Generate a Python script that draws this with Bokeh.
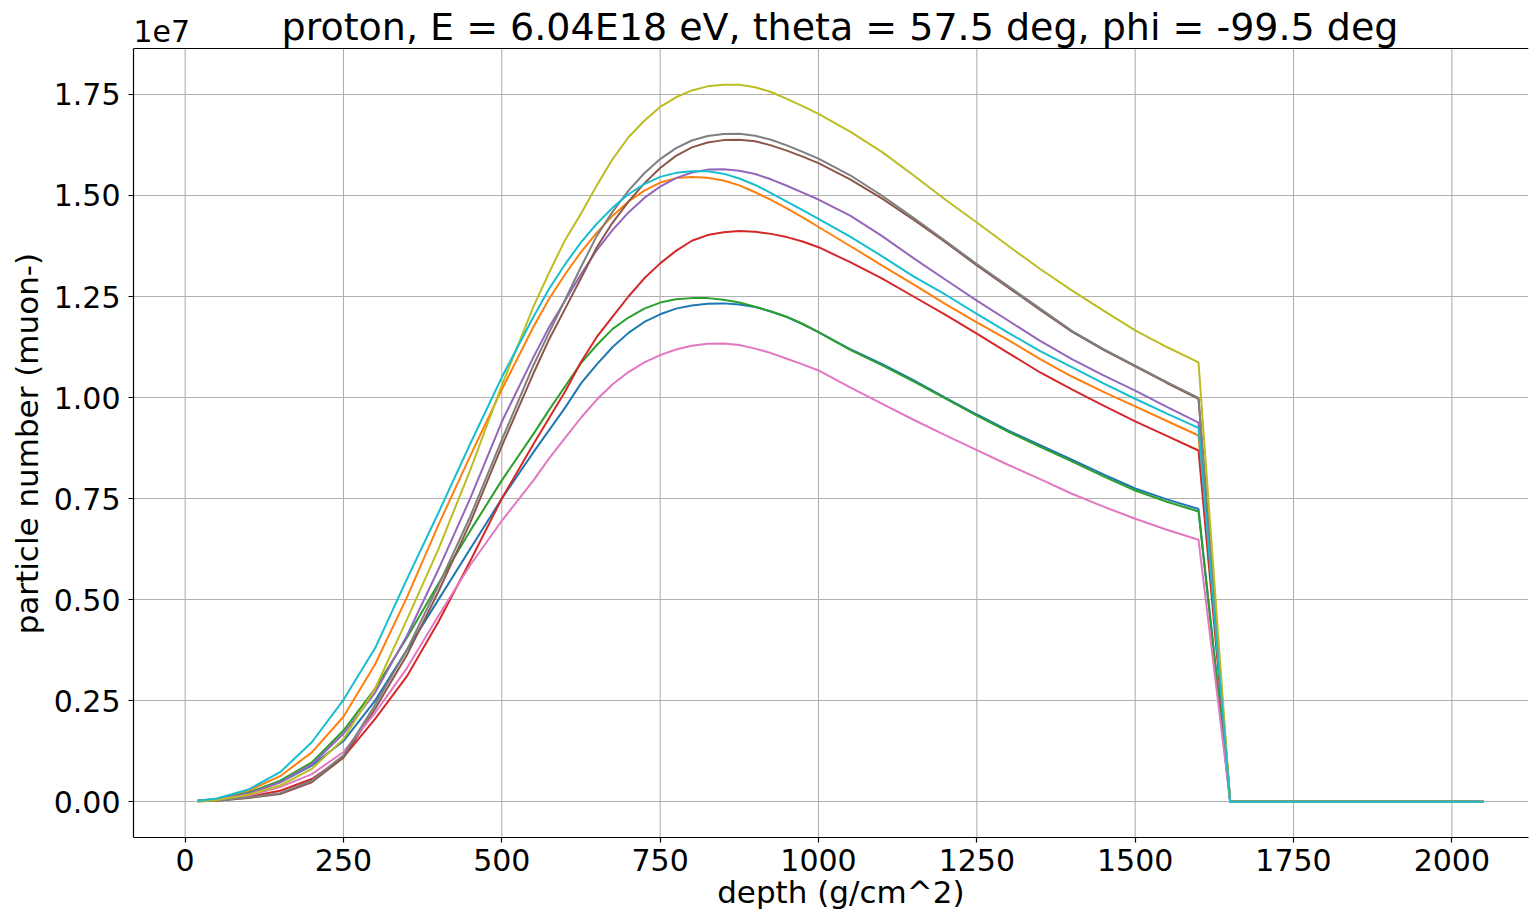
from bokeh.plotting import figure
from bokeh.models import Range1d, FixedTicker, NumeralTickFormatter, Label, Span
from bokeh.embed import file_html
from bokeh.resources import INLINE

# ---------------- data (particle numbers in units of 1e6) ----------------
depth = [20, 50, 100, 150, 200, 250, 300, 350, 400, 450, 500, 550, 575, 600, 625, 650,
         675, 700, 725, 750, 775, 800, 825, 850, 875, 900, 925, 950, 975, 1000,
         1050, 1100, 1150, 1200, 1250, 1300, 1350, 1400, 1450, 1500, 1550, 1600, 1650, 2050]

curve_blue = [0.02, 0.05, 0.20, 0.48, 0.89, 1.50, 2.50, 3.75, 5.00, 6.25, 7.50, 8.65, 9.20,
              9.75, 10.35, 10.82, 11.25, 11.60, 11.87, 12.06, 12.20, 12.28, 12.32, 12.33,
              12.30, 12.24, 12.13, 11.99, 11.82, 11.62,
              11.20, 10.83, 10.43, 10.00, 9.58, 9.18, 8.82, 8.46, 8.10, 7.75, 7.48, 7.24, 0.0, 0.0]
curve_orange = [0.02, 0.07, 0.27, 0.63, 1.22, 2.10, 3.40, 5.05, 6.85, 8.55, 10.20, 11.75, 12.45,
                13.05, 13.60, 14.08, 14.50, 14.85, 15.12, 15.32, 15.43, 15.46, 15.44, 15.37,
                15.25, 15.08, 14.89, 14.68, 14.46, 14.22,
                13.75, 13.27, 12.80, 12.32, 11.86, 11.42, 10.95, 10.52, 10.14, 9.78, 9.42, 9.06, 0.0, 0.0]
curve_green = [0.02, 0.06, 0.22, 0.52, 0.97, 1.76, 2.80, 4.05, 5.40, 6.70, 7.95, 9.10, 9.70,
               10.28, 10.85, 11.30, 11.70, 11.98, 12.20, 12.35, 12.43, 12.46, 12.46, 12.42,
               12.35, 12.25, 12.13, 12.00, 11.82, 11.62,
               11.18, 10.80, 10.40, 9.98, 9.55, 9.15, 8.78, 8.42, 8.05, 7.70, 7.42, 7.18, 0.0, 0.0]
curve_red = [0.01, 0.03, 0.12, 0.27, 0.56, 1.10, 2.05, 3.10, 4.45, 5.95, 7.50, 8.85, 9.50,
             10.15, 10.88, 11.50, 12.00, 12.50, 12.95, 13.32, 13.63, 13.88, 14.02, 14.09,
             14.12, 14.10, 14.05, 13.97, 13.86, 13.72,
             13.35, 12.95, 12.50, 12.05, 11.58, 11.10, 10.62, 10.20, 9.80, 9.41, 9.05, 8.69, 0.0, 0.0]
curve_purple = [0.02, 0.06, 0.20, 0.48, 0.92, 1.68, 2.70, 4.10, 5.75, 7.50, 9.40, 11.00, 11.75,
                12.40, 13.05, 13.65, 14.15, 14.58, 14.94, 15.22, 15.43, 15.57, 15.64, 15.65,
                15.61, 15.53, 15.40, 15.24, 15.07, 14.90,
                14.50, 14.00, 13.45, 12.92, 12.40, 11.90, 11.40, 10.95, 10.55, 10.17, 9.77, 9.38, 0.0, 0.0]
curve_brown = [0.01, 0.02, 0.09, 0.19, 0.48, 1.09, 2.30, 3.62, 5.20, 6.90, 8.80, 10.60, 11.45,
               12.20, 12.95, 13.72, 14.33, 14.85, 15.30, 15.68, 15.98, 16.19, 16.31, 16.37,
               16.38, 16.34, 16.24, 16.11, 15.96, 15.80,
               15.40, 14.93, 14.40, 13.85, 13.27, 12.72, 12.17, 11.63, 11.18, 10.77, 10.36, 9.97, 0.0, 0.0]
curve_pink = [0.02, 0.05, 0.15, 0.36, 0.68, 1.23, 2.20, 3.30, 4.60, 5.85, 6.95, 7.95, 8.50,
              9.00, 9.50, 9.95, 10.33, 10.63, 10.87, 11.05, 11.19, 11.28, 11.33, 11.34,
              11.30, 11.21, 11.10, 10.96, 10.82, 10.67,
              10.25, 9.85, 9.45, 9.07, 8.70, 8.33, 7.98, 7.62, 7.30, 7.00, 6.73, 6.48, 0.0, 0.0]
curve_gray = [0.01, 0.02, 0.10, 0.21, 0.52, 1.15, 2.40, 3.75, 5.35, 7.05, 8.95, 10.80, 11.62,
              12.42, 13.23, 14.00, 14.60, 15.12, 15.55, 15.90, 16.17, 16.36, 16.47, 16.52,
              16.53, 16.48, 16.38, 16.24, 16.08, 15.91,
              15.50, 15.00, 14.45, 13.88, 13.30, 12.75, 12.20, 11.65, 11.20, 10.79, 10.38, 9.99, 0.0, 0.0]
curve_olive = [0.01, 0.04, 0.17, 0.40, 0.81, 1.55, 2.80, 4.50, 6.25, 8.20, 10.30, 12.25, 13.10,
               13.90, 14.55, 15.25, 15.90, 16.44, 16.85, 17.19, 17.43, 17.60, 17.70, 17.74,
               17.74, 17.68, 17.56, 17.39, 17.21, 17.02,
               16.58, 16.08, 15.50, 14.90, 14.33, 13.75, 13.18, 12.65, 12.15, 11.66, 11.25, 10.87, 0.0, 0.0]
curve_cyan = [0.02, 0.08, 0.30, 0.73, 1.47, 2.52, 3.80, 5.50, 7.15, 8.85, 10.50, 12.00, 12.70,
              13.30, 13.84, 14.30, 14.70, 15.03, 15.28, 15.46, 15.56, 15.60, 15.60, 15.54,
              15.42, 15.26, 15.06, 14.85, 14.64, 14.42,
              13.98, 13.50, 13.00, 12.55, 12.07, 11.60, 11.15, 10.75, 10.35, 9.97, 9.60, 9.25, 0.0, 0.0]

series = [curve_blue, curve_orange, curve_green, curve_red, curve_purple,
          curve_brown, curve_pink, curve_gray, curve_olive, curve_cyan]
colors = ["#1f77b4", "#ff7f0e", "#2ca02c", "#d62728", "#9467bd",
          "#8c564b", "#e377c2", "#7f7f7f", "#bcbd22", "#17becf"]

x_ticks = [0, 250, 500, 750, 1000, 1250, 1500, 1750, 2000]
y_ticks = [0.0, 0.25, 0.5, 0.75, 1.0, 1.25, 1.5, 1.75]

title_text = "proton, E = 6.04E18 eV, theta = 57.5 deg, phi = -99.5 deg"
offset_text = "1e7"
x_label = "depth (g/cm^2)"
y_label = "particle number (muon-)"
FONT = "DejaVu Sans"

# ---------------- layout geometry (pixels) ----------------
W, H = 1529, 912
BOX_LEFT, BOX_RIGHT = 133, 1528       # plotting box, canvas px
BOX_TOP, BOX_BOTTOM = 48, 837
BOTTOM_PANEL = H - BOX_BOTTOM

x_start, x_end = -81.5, 2121.0
y_start, y_end = -0.0887, 1.8637        # visible box range (units of 1e7)
units_per_px = (y_end - y_start) / (BOX_BOTTOM - BOX_TOP)
y_top = y_end + BOX_TOP * units_per_px  # frame extends to canvas top (room for title)
x_per_px = (x_end - x_start) / (BOX_RIGHT - BOX_LEFT)

p = figure(width=W, height=H, output_backend="svg", toolbar_location=None,
           x_range=Range1d(x_start, x_end), y_range=Range1d(y_start, y_top),
           min_border_left=BOX_LEFT, min_border_right=W - BOX_RIGHT, min_border_top=0,
           min_border_bottom=BOTTOM_PANEL)

p.background_fill_color = "white"
p.border_fill_color = "white"
p.outline_line_color = None

for ax in (p.xaxis[0], p.yaxis[0]):
    ax.major_label_text_font = FONT
    ax.major_label_text_font_size = "30px"
    ax.major_label_text_color = "black"
    ax.axis_label_text_font = FONT
    ax.axis_label_text_font_size = "31px"
    ax.axis_label_text_font_style = "normal"
    ax.axis_label_text_color = "black"
    ax.axis_line_color = "black"
    ax.axis_line_width = 1.2
    ax.major_tick_line_color = "black"
    ax.major_tick_line_width = 1.2
    ax.major_tick_out = 5
    ax.major_tick_in = 0
    ax.minor_tick_out = 0
    ax.minor_tick_in = 0

p.xaxis.ticker = FixedTicker(ticks=x_ticks)
p.yaxis.ticker = FixedTicker(ticks=y_ticks)
p.yaxis.formatter = NumeralTickFormatter(format="0.00")
p.yaxis.bounds = (y_start, y_end)
# the label is centred on the whole (taller) frame; pad so it centres on the box
p.xaxis.axis_label = "\u00a0\u00a0" + x_label
p.yaxis.axis_label = y_label + "\u00a0" * 5
p.xaxis.major_label_standoff = 6
p.xaxis.axis_label_standoff = 0
p.yaxis.major_label_standoff = 8
p.yaxis.axis_label_standoff = 6

# grid: horizontal from the grid model, vertical drawn only inside the box
p.xgrid.grid_line_color = None
p.ygrid.grid_line_color = "#b0b0b0"
p.ygrid.grid_line_width = 1.1
p.segment(x0=x_ticks, y0=[y_start] * len(x_ticks), x1=x_ticks, y1=[y_end] * len(x_ticks),
          line_color="#b0b0b0", line_width=1.1)

for ys, c in zip(series, colors):
    p.line(depth, [v / 10.0 for v in ys], line_color=c, line_width=2)

# top spine of the box
p.add_layout(Span(location=y_end, dimension="width", line_color="black", line_width=1.2))

# title and offset text, placed above the box
title_x = x_start + (839.5 - BOX_LEFT) * x_per_px
title_y = y_end + 22 * units_per_px
p.add_layout(Label(x=title_x, y=title_y, text=title_text, text_font=FONT,
                   text_font_size="38px", text_color="black",
                   text_align="center", text_baseline="alphabetic"))
p.add_layout(Label(x=x_start, y=y_end + 18 * units_per_px, text=offset_text,
                   text_font=FONT, text_font_size="30px", text_color="black",
                   text_align="left", text_baseline="alphabetic"))

open("out.html", "w").write(file_html(p, INLINE))
